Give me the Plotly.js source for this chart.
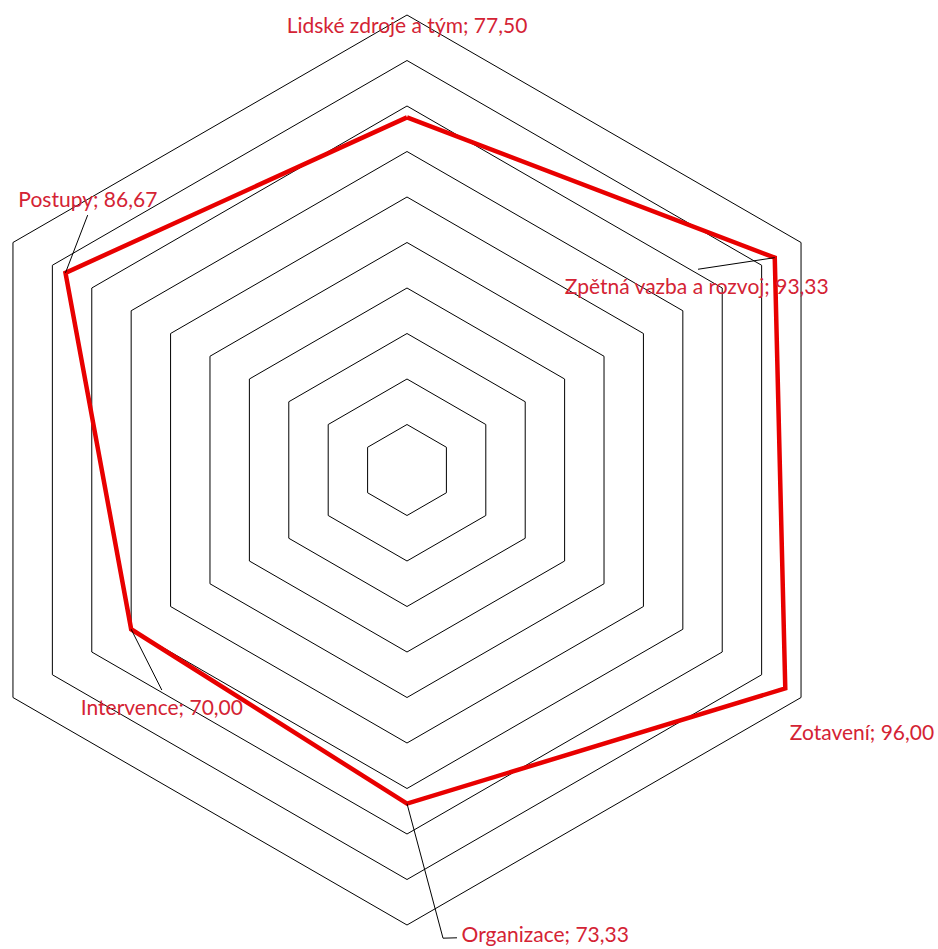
<!DOCTYPE html>
<html>
<head>
<meta charset="utf-8">
<script src="https://cdn.plot.ly/plotly-3.0.1.min.js"></script>
<style>
html, body { margin: 0; padding: 0; overflow: hidden; background: #ffffff; width: 938px; height: 949px; }
#chart { position: absolute; left: -140px; top: -130px; width: 1200px; height: 1200px; }
</style>
</head>
<body>
<div id="chart"></div>
<script>
// ---- data ----
const categories = ['Lidské zdroje a tým', 'Zpětná vazba a rozvoj', 'Zotavení', 'Organizace', 'Intervence', 'Postupy'];
const values = [77.50, 93.33, 96.00, 73.33, 70.00, 86.67];
const gridTicks = [10, 20, 30, 40, 50, 60, 70, 80, 90, 100];

// ---- label placement (layout only), in overlay polar coords (r, degrees clockwise from top) ----
const labelR = [97.1, 75.1, 115.7, 107.0, 75.4, 91.7];
const labelAngle = [0, 58.0, 120.2, 163.5, 225.6, 310.1];
const leaderBends = [null, [[77.7, 55.4]], null, [[103.2, 175.6], [103.4, 173.9]], [[72.4, 228.1]], [[89.8, 308.6]]];

// ---- geometry of the page ----
const W = 1200, H = 1200, offL = -140, offT = -130;
const cx = 407 - offL, cy = 470 - offT;          // centre in div pixels
const R1 = 455, overlayMax = 120, R2 = R1 * overlayMax / 100;
function dom(R) {
  return {
    x: [(cx - R) / W, (cx + R) / W],
    y: [(H - cy - R) / H, (H - cy + R) / H]
  };
}

const step = 360 / categories.length;
const fmt = v => v.toFixed(2).replace('.', ',');

const traces = [];
// main series
traces.push({
  type: 'scatterpolar', subplot: 'polar',
  r: values.concat([values[0]]),
  theta: categories.concat([categories[0]]),
  mode: 'lines',
  line: { color: 'rgb(232,0,0)', width: 4.5 },
  hoverinfo: 'skip', showlegend: false
});
// leader lines
categories.forEach((c, i) => {
  if (!leaderBends[i]) return;
  traces.push({
    type: 'scatterpolar', subplot: 'polar2',
    r: [values[i]].concat(leaderBends[i].map(p => p[0])),
    theta: [i * step].concat(leaderBends[i].map(p => p[1])),
    mode: 'lines',
    line: { color: '#000000', width: 1 },
    hoverinfo: 'skip', showlegend: false
  });
});
// data labels
traces.push({
  type: 'scatterpolar', subplot: 'polar2',
  r: labelR, theta: labelAngle,
  mode: 'text',
  text: categories.map((c, i) => c + '; ' + fmt(values[i])),
  textposition: 'middle center',
  textfont: { family: 'Lato, "Open Sans", sans-serif', size: 21, color: '#d42334' },
  cliponaxis: false,
  hoverinfo: 'skip', showlegend: false
});

const layout = {
  width: W, height: H,
  margin: { l: 0, r: 0, t: 0, b: 0, pad: 0 },
  paper_bgcolor: '#ffffff',
  showlegend: false,
  polar: {
    domain: dom(R1),
    bgcolor: 'rgba(0,0,0,0)',
    gridshape: 'linear',
    radialaxis: {
      range: [0, 100], tickvals: gridTicks, showticklabels: false, ticks: '',
      showline: false, gridcolor: '#000000', gridwidth: 1
    },
    angularaxis: {
      type: 'category', categoryarray: categories,
      rotation: 90, direction: 'clockwise',
      showgrid: false, showticklabels: false, ticks: '',
      showline: true, linecolor: '#000000', linewidth: 1
    }
  },
  polar2: {
    domain: dom(R2),
    bgcolor: 'rgba(0,0,0,0)',
    radialaxis: { range: [0, overlayMax], visible: false },
    angularaxis: { type: 'linear', thetaunit: 'degrees', rotation: 90, direction: 'clockwise', visible: false }
  }
};

Plotly.newPlot('chart', traces, layout, { staticPlot: true, displayModeBar: false });
</script>
</body>
</html>
